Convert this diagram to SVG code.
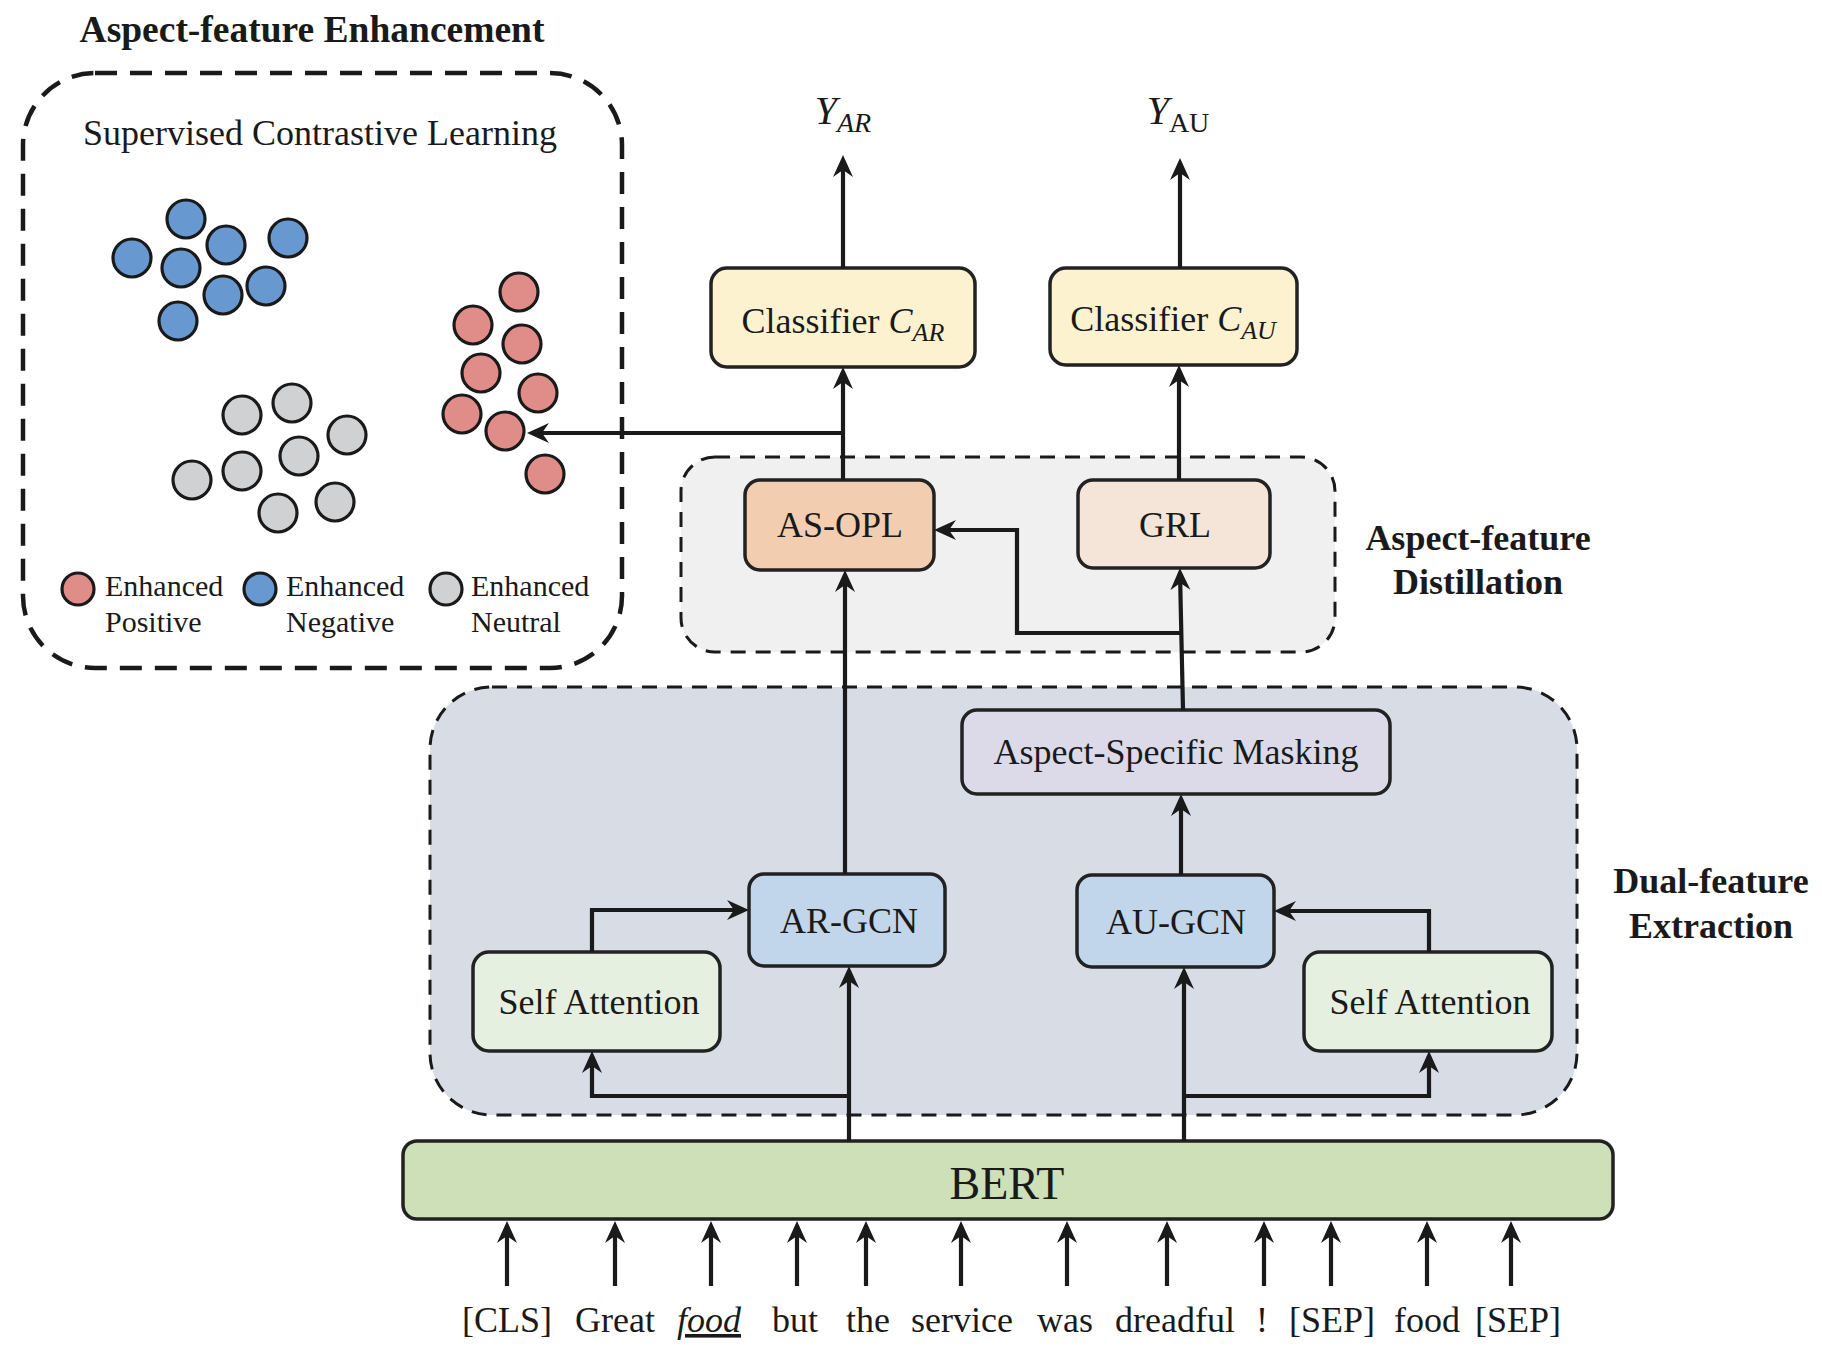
<svg xmlns="http://www.w3.org/2000/svg" width="1822" height="1350" viewBox="0 0 1822 1350">
<style>
text{font-family:"Liberation Serif","Times New Roman",serif;fill:#1a1a1a}
.t{font-size:36px;text-anchor:middle}
.b{font-size:36px;font-weight:bold;text-anchor:middle}
.lg{font-size:30px}
.node{stroke:#222;stroke-width:3.5}
.pos{fill:#e08d89;stroke:#1a1a1a;stroke-width:3.2}
.neg{fill:#6798cf;stroke:#1a1a1a;stroke-width:3.2}
.neu{fill:#d0d1d3;stroke:#1a1a1a;stroke-width:3.2}
.c{fill:none;stroke:#1a1a1a;stroke-width:4.2;marker-end:url(#ah)}
.it{font-style:italic}
</style>
<defs>
<marker id="ah" viewBox="0 0 22 22" refX="17" refY="11" markerWidth="22" markerHeight="22" markerUnits="userSpaceOnUse" orient="auto">
<path d="M22,11 L0,1 L7,11 L0,21 Z" fill="#1a1a1a"/>
</marker>
</defs>
<rect width="1822" height="1350" fill="#fff"/>

<g id="enhancement">
<text class="b" x="312" y="42" style="font-size:37.5px">Aspect-feature Enhancement</text>
<rect x="23" y="73" width="599" height="595" rx="72" fill="none" stroke="#1a1a1a" stroke-width="4.5" stroke-dasharray="22 13"/>
<text class="t" x="320" y="145">Supervised Contrastive Learning</text>
<g id="negative-cluster">
<circle class="neg" cx="186" cy="219" r="19"/>
<circle class="neg" cx="132" cy="258" r="19"/>
<circle class="neg" cx="181" cy="268" r="19"/>
<circle class="neg" cx="226" cy="245" r="19"/>
<circle class="neg" cx="288" cy="238" r="19"/>
<circle class="neg" cx="266" cy="286" r="19"/>
<circle class="neg" cx="223" cy="295" r="19"/>
<circle class="neg" cx="178" cy="321" r="19"/>
</g>
<g id="positive-cluster">
<circle class="pos" cx="519" cy="292" r="19"/>
<circle class="pos" cx="473" cy="325" r="19"/>
<circle class="pos" cx="522" cy="344" r="19"/>
<circle class="pos" cx="481" cy="373" r="19"/>
<circle class="pos" cx="538" cy="393" r="19"/>
<circle class="pos" cx="462" cy="414" r="19"/>
<circle class="pos" cx="505" cy="431" r="19"/>
<circle class="pos" cx="545" cy="474" r="19"/>
</g>
<g id="neutral-cluster">
<circle class="neu" cx="242" cy="415" r="19"/>
<circle class="neu" cx="292" cy="403" r="19"/>
<circle class="neu" cx="347" cy="435" r="19"/>
<circle class="neu" cx="299" cy="456" r="19"/>
<circle class="neu" cx="242" cy="471" r="19"/>
<circle class="neu" cx="192" cy="480" r="19"/>
<circle class="neu" cx="278" cy="513" r="19"/>
<circle class="neu" cx="335" cy="502" r="19"/>
</g>
<g id="legend">
<circle class="pos" cx="78" cy="589" r="16"/>
<text class="lg" x="105" y="596">Enhanced</text>
<text class="lg" x="105" y="632">Positive</text>
<circle class="neg" cx="260" cy="589" r="16"/>
<text class="lg" x="286" y="596">Enhanced</text>
<text class="lg" x="286" y="632">Negative</text>
<circle class="neu" cx="446" cy="589" r="16"/>
<text class="lg" x="471" y="596">Enhanced</text>
<text class="lg" x="471" y="632">Neutral</text>
</g>
</g>

<g id="distillation-group">
<rect x="681" y="457" width="654" height="195" rx="34" fill="#f0f0f0" stroke="#1a1a1a" stroke-width="3" stroke-dasharray="15 10"/>
<text class="b" x="1478" y="550">Aspect-feature</text>
<text class="b" x="1478" y="594">Distillation</text>
</g>

<g id="extraction-group">
<rect x="430" y="687" width="1147" height="428" rx="62" fill="#d7dce5" stroke="#1a1a1a" stroke-width="3" stroke-dasharray="15 10"/>
<text class="b" x="1711" y="893">Dual-feature</text>
<text class="b" x="1711" y="938">Extraction</text>
</g>

<g id="outputs">
<text x="843" y="124" style="font-size:40px;text-anchor:middle"><tspan class="it">Y</tspan><tspan class="it" dy="8" style="font-size:28px">AR</tspan></text>
<text x="1178" y="124" style="font-size:40px;text-anchor:middle"><tspan class="it">Y</tspan><tspan dy="8" style="font-size:28px">AU</tspan></text>
</g>

<g id="classifier-ar">
<rect class="node" x="711" y="268" width="264" height="99" rx="16" fill="#fdf2d0"/>
<text x="843" y="333" style="font-size:36px;text-anchor:middle">Classifier <tspan class="it">C</tspan><tspan class="it" dy="8" style="font-size:26px">AR</tspan></text>
</g>
<g id="classifier-au">
<rect class="node" x="1050" y="268" width="247" height="97" rx="16" fill="#fdf2d0"/>
<text x="1173" y="331" style="font-size:36px;text-anchor:middle">Classifier <tspan class="it">C</tspan><tspan class="it" dy="8" style="font-size:26px">AU</tspan></text>
</g>
<g id="as-opl">
<rect class="node" x="745" y="480" width="189" height="90" rx="15" fill="#f2cdb0"/>
<text class="t" x="840" y="537">AS-OPL</text>
</g>
<g id="grl">
<rect class="node" x="1078" y="480" width="192" height="88" rx="15" fill="#f5e4d8"/>
<text class="t" x="1175" y="537">GRL</text>
</g>
<g id="masking">
<rect class="node" x="962" y="710" width="428" height="84" rx="15" fill="#dcdae8"/>
<text class="t" x="1176" y="764">Aspect-Specific Masking</text>
</g>
<g id="ar-gcn">
<rect class="node" x="749" y="874" width="196" height="92" rx="15" fill="#c2d6eb"/>
<text class="t" x="849" y="933">AR-GCN</text>
</g>
<g id="au-gcn">
<rect class="node" x="1077" y="875" width="197" height="92" rx="15" fill="#c2d6eb"/>
<text class="t" x="1176" y="934">AU-GCN</text>
</g>
<g id="self-attention-left">
<rect class="node" x="473" y="952" width="247" height="99" rx="16" fill="#e6f0e0"/>
<text class="t" x="599" y="1014">Self Attention</text>
</g>
<g id="self-attention-right">
<rect class="node" x="1304" y="952" width="248" height="99" rx="16" fill="#e6f0e0"/>
<text class="t" x="1430" y="1014">Self Attention</text>
</g>
<g id="bert">
<rect class="node" x="403" y="1141" width="1210" height="78" rx="14" fill="#cde0b8"/>
<text x="1007" y="1199" style="font-size:46px;text-anchor:middle">BERT</text>
</g>

<g id="tokens">
<text class="t" x="507" y="1332">[CLS]</text>
<text class="t" x="615" y="1332">Great</text>
<text class="t it" x="709" y="1332" text-decoration="underline">food</text>
<text class="t" x="795" y="1332">but</text>
<text class="t" x="868" y="1332">the</text>
<text class="t" x="962" y="1332">service</text>
<text class="t" x="1065" y="1332">was</text>
<text class="t" x="1175" y="1332">dreadful</text>
<text class="t" x="1262" y="1332">!</text>
<text class="t" x="1332" y="1332">[SEP]</text>
<text class="t" x="1427" y="1332">food</text>
<text class="t" x="1518" y="1332">[SEP]</text>
</g>

<g id="connectors">
<line class="c" x1="843" y1="268" x2="843" y2="160"/>
<line class="c" x1="1180" y1="268" x2="1180" y2="163"/>
<line class="c" x1="843" y1="480" x2="843" y2="372"/>
<line class="c" x1="843" y1="433" x2="532" y2="433"/>
<line class="c" x1="1179" y1="480" x2="1179" y2="370"/>
<line class="c" x1="845" y1="874" x2="845" y2="575"/>
<line class="c" x1="1183" y1="710" x2="1180" y2="573"/>
<polyline class="c" points="1182,633 1017,633 1017,530 939,530"/>
<line class="c" x1="1181" y1="875" x2="1181" y2="799"/>
<line class="c" x1="849" y1="1141" x2="849" y2="971"/>
<polyline class="c" points="849,1096 592,1096 592,1056"/>
<polyline class="c" points="592,952 592,910 744,910"/>
<line class="c" x1="1184" y1="1141" x2="1184" y2="972"/>
<polyline class="c" points="1184,1096 1429,1096 1429,1056"/>
<polyline class="c" points="1429,952 1429,911 1279,911"/>
<line class="c" x1="507" y1="1286" x2="507" y2="1226"/>
<line class="c" x1="615" y1="1286" x2="615" y2="1226"/>
<line class="c" x1="711" y1="1286" x2="711" y2="1226"/>
<line class="c" x1="797" y1="1286" x2="797" y2="1226"/>
<line class="c" x1="866" y1="1286" x2="866" y2="1226"/>
<line class="c" x1="961" y1="1286" x2="961" y2="1226"/>
<line class="c" x1="1067" y1="1286" x2="1067" y2="1226"/>
<line class="c" x1="1167" y1="1286" x2="1167" y2="1226"/>
<line class="c" x1="1264" y1="1286" x2="1264" y2="1226"/>
<line class="c" x1="1331" y1="1286" x2="1331" y2="1226"/>
<line class="c" x1="1427" y1="1286" x2="1427" y2="1226"/>
<line class="c" x1="1511" y1="1286" x2="1511" y2="1226"/>
</g>
</svg>
